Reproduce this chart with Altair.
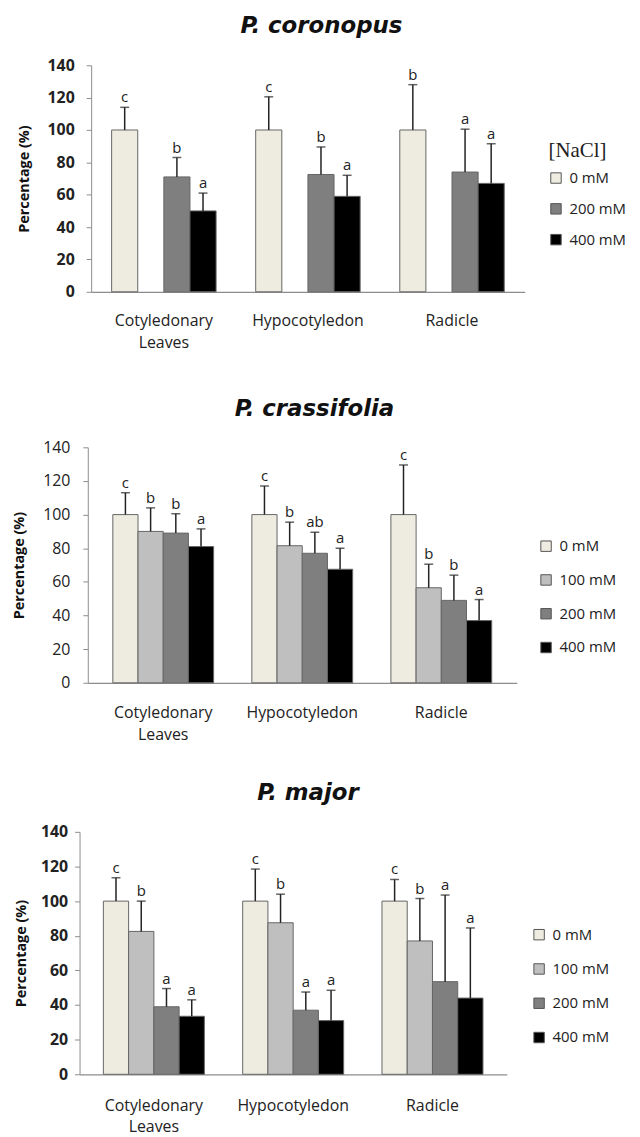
import altair as alt
import pandas as pd

organs = ["Cotyledonary Leaves", "Hypocotyledon", "Radicle"]
conc_all = ["0 mM", "100 mM", "200 mM", "400 mM"]
conc_colors = ["#EEECE1", "#BFBFBF", "#7F7F7F", "#000000"]

# P. coronopus (no 100 mM treatment)
cor_conc = ["0 mM", "200 mM", "400 mM"]
cor_0 = [100, 100, 100]
cor_0_sd = [14, 20.5, 28]
cor_0_sig = ["c", "c", "b"]
cor_200 = [71, 72.5, 74]
cor_200_sd = [12, 17, 26.5]
cor_200_sig = ["b", "b", "a"]
cor_400 = [50, 59, 67]
cor_400_sd = [11, 13, 24.5]
cor_400_sig = ["a", "a", "a"]

# P. crassifolia
cra_0 = [100, 100, 100]
cra_0_sd = [13, 17, 29.5]
cra_0_sig = ["c", "c", "c"]
cra_100 = [90, 81.5, 56.5]
cra_100_sd = [14, 14, 14]
cra_100_sig = ["b", "b", "b"]
cra_200 = [89, 77, 49]
cra_200_sd = [11.5, 12.5, 15]
cra_200_sig = ["b", "ab", "b"]
cra_400 = [81, 67.5, 37]
cra_400_sd = [10.5, 12.5, 12.5]
cra_400_sig = ["a", "a", "a"]

# P. major
maj_0 = [100, 100, 100]
maj_0_sd = [13.5, 18.5, 12.5]
maj_0_sig = ["c", "c", "c"]
maj_100 = [82.5, 87.5, 77]
maj_100_sd = [17.5, 16.5, 24.5]
maj_100_sig = ["b", "b", "b"]
maj_200 = [39, 37, 53.5]
maj_200_sd = [10.5, 10.5, 50]
maj_200_sig = ["a", "a", "a"]
maj_400 = [33.5, 31, 44]
maj_400_sd = [9.5, 17.5, 40.5]
maj_400_sig = ["a", "a", "a"]

y_ticks = [0, 20, 40, 60, 80, 100, 120, 140]

FONT = "Open Sans"
TITLE_FONT = "DejaVu Sans"


def make_df(concs, means, sds, sigs):
    rows = []
    for c, m, s, g in zip(concs, means, sds, sigs):
        for o, mv, sv, gv in zip(organs, m, s, g):
            rows.append({"organ": o, "conc": c, "mean": mv, "top": mv + sv, "sig": gv})
    return pd.DataFrame(rows)


def panel(df, title, concs, width, height, left_gap, pad_outer, title_dx, label_bold,
          y_label_pad, y_title_pad, x_label_pad, legend_x, legend_y, legend_row_pad,
          legend_title):
    colors = [conc_colors[conc_all.index(c)] for c in concs]
    x_enc = alt.X(
        "organ:N",
        sort=organs,
        scale=alt.Scale(domain=organs, range=[left_gap, width],
                        paddingInner=0.275, paddingOuter=pad_outer),
        axis=alt.Axis(
            title=None, labelAngle=0, ticks=False, tickSize=0,
            domainColor="#8C8C8C", domainWidth=1.2,
            labelFont=FONT, labelFontSize=16, labelColor="#222222",
            labelPadding=x_label_pad, labelLineHeight=22,
            labelExpr="datum.value == 'Cotyledonary Leaves' ? ['Cotyledonary', 'Leaves'] : datum.label",
        ),
    )
    xo_enc = alt.XOffset(
        "conc:N", scale=alt.Scale(domain=conc_all, paddingInner=0, paddingOuter=0)
    )
    y_scale = alt.Scale(domain=[0, 140], nice=False)
    y_axis = alt.Axis(
        title="Percentage (%)", values=y_ticks,
        grid=False, labelOverlap=False, offset=-left_gap,
        domainColor="#8C8C8C", tickColor="#8C8C8C", tickSize=5,
        labelFont=FONT, labelFontSize=16,
        labelFontWeight="bold" if label_bold else "normal",
        labelColor="#222222", labelPadding=y_label_pad,
        titleFont=FONT, titleFontSize=14.5, titleFontWeight="bold",
        titleColor="#111111", titlePadding=y_title_pad,
    )
    base = alt.Chart(df).encode(x=x_enc, xOffset=xo_enc)

    legend_kwargs = dict(
        orient="none", legendX=legend_x, legendY=legend_y,
        symbolType="square", symbolSize=110, symbolStrokeColor="#555555",
        symbolStrokeWidth=1, labelFont=FONT, labelFontSize=15, labelColor="#222222",
        labelOffset=6, rowPadding=legend_row_pad, padding=0,
    )
    if legend_title:
        legend_kwargs.update(titleFont="Liberation Serif",
                             titleFontSize=21, titleFontWeight="normal",
                             titleColor="#222222", titlePadding=10)
    legend = alt.Legend(**legend_kwargs)

    bars = base.mark_bar(stroke="#666666", strokeWidth=1).encode(
        y=alt.Y("mean:Q", scale=y_scale, axis=y_axis),
        color=alt.Color(
            "conc:N", title=legend_title,
            scale=alt.Scale(domain=concs, range=colors),
            legend=legend,
        ),
    )
    rules = base.mark_rule(color="#222222", strokeWidth=1.5).encode(
        y=alt.Y("mean:Q", scale=y_scale, axis=y_axis), y2="top:Q"
    )
    caps = base.mark_tick(color="#222222", thickness=1.5, size=9, orient="horizontal").encode(
        y=alt.Y("top:Q", scale=y_scale, axis=y_axis)
    )
    letters = base.mark_text(dy=-10, font=FONT, fontSize=15, color="#222222").encode(
        y=alt.Y("top:Q", scale=y_scale, axis=y_axis), text="sig:N"
    )
    return alt.layer(bars, rules, caps, letters).properties(
        width=width, height=height,
        title=alt.TitleParams(
            title, font=TITLE_FONT, fontSize=23, fontWeight="bold", fontStyle="italic",
            color="#111111", anchor="middle", frame="group", dx=title_dx, offset=19,
        ),
    )


df_cor = make_df(cor_conc, [cor_0, cor_200, cor_400],
                 [cor_0_sd, cor_200_sd, cor_400_sd],
                 [cor_0_sig, cor_200_sig, cor_400_sig])
df_cra = make_df(conc_all, [cra_0, cra_100, cra_200, cra_400],
                 [cra_0_sd, cra_100_sd, cra_200_sd, cra_400_sd],
                 [cra_0_sig, cra_100_sig, cra_200_sig, cra_400_sig])
df_maj = make_df(conc_all, [maj_0, maj_100, maj_200, maj_400],
                 [maj_0_sd, maj_100_sd, maj_200_sd, maj_400_sd],
                 [maj_0_sig, maj_100_sig, maj_200_sig, maj_400_sig])

p1 = panel(df_cor, "P. coronopus", cor_conc, 448, 228, 11.7, 0.142, 19.5, True,
           12, 16, 21, 472, 75, 15, "[NaCl]")
p2 = panel(df_cra, "P. crassifolia", conc_all, 440, 237, 8.3, 0.18, 16.5, False,
           13, 16, 22, 462, 92, 18, None)
p3 = panel(df_maj, "P. major", conc_all, 430, 244, 0, 0.171, 15, True,
           7, 12, 23, 455, 96, 18.5, None)

RES = dict(color="independent", x="independent", y="independent", xOffset="independent")

inner = alt.concat(p2, p3, columns=1, spacing=40).resolve_scale(
    **RES).resolve_legend(color="independent")
chart = alt.concat(p1, inner, columns=1, spacing=47.5,
                   padding={"left": 3, "top": 4, "right": 5, "bottom": 0}).resolve_scale(
    **RES).resolve_legend(color="independent").configure_view(stroke=None)

chart.save("out.html", embed_options={"renderer": "svg", "actions": False})
